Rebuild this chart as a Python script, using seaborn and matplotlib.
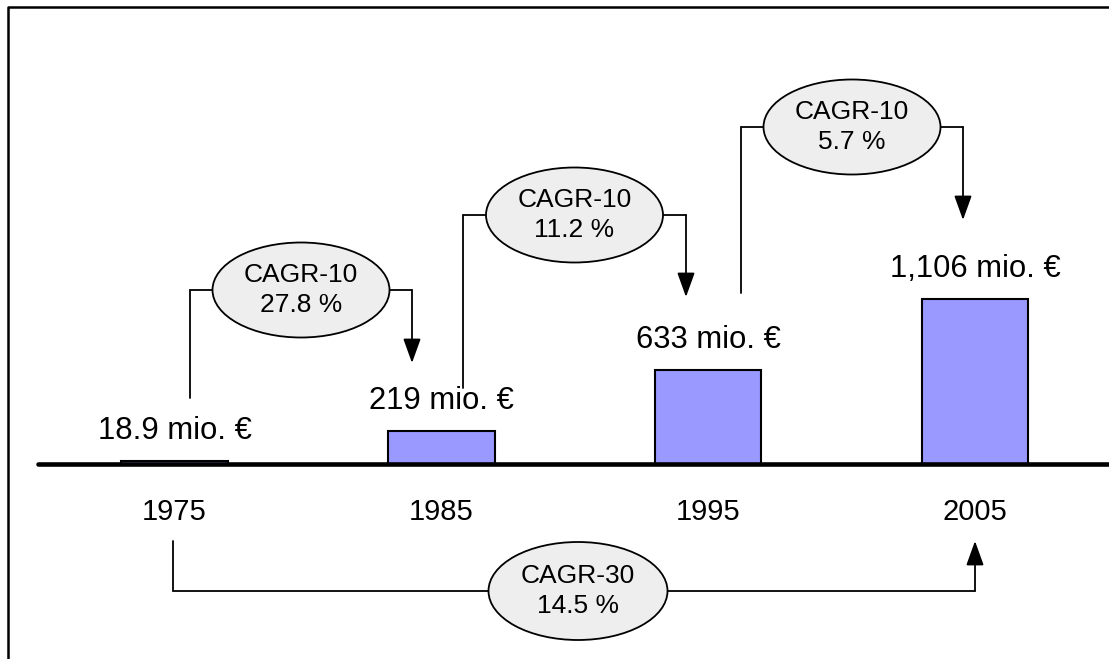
import matplotlib
matplotlib.use("Agg")
import matplotlib.pyplot as plt
from matplotlib.patches import Ellipse
import seaborn as sns
import pandas as pd

# data
years = ["1975", "1985", "1995", "2005"]
revenue = [18.9, 219, 633, 1106]
value_labels = ["18.9 mio. €", "219 mio. €", "633 mio. €", "1,106 mio. €"]
cagr10 = ["27.8 %", "11.2 %", "5.7 %"]
cagr30 = "14.5 %"

sns.set_style("white")
plt.rcParams["font.family"] = ["Liberation Sans", "DejaVu Sans"]
plt.rcParams["text.color"] = "black"

# pixel -> data helper (figure is 1109x659, axes fill it)
X0, DX = 174.5, 266.8   # px of first bar centre, px between bars
Y0, S = 464, 6.7        # px of baseline, mio per px


def px(x, y):
    return (x - X0) / DX, (Y0 - y) * S


fig = plt.figure(figsize=(11.09, 6.59), dpi=100)
ax = fig.add_axes([0, 0, 1, 1])

df = pd.DataFrame({"year": years, "revenue": revenue})
sns.barplot(data=df, x="year", y="revenue", color="#9999FF", saturation=1,
            edgecolor="black", linewidth=1.5, width=0.4, ax=ax)

ax.set_xlim(px(0, 0)[0], px(1109, 0)[0])
ax.set_ylim(px(0, 659)[1], px(0, 0)[1])
ax.axis("off")

# frame
fx, fy = px(8, 7)
ax.plot([fx, fx, px(1115, 0)[0]], [px(0, 670)[1], fy, fy],
        color="black", lw=1.8, clip_on=False)

# baseline
ax.plot([px(38, 0)[0], px(1115, 0)[0]], [0, 0], color="black", lw=3.3,
        clip_on=False, zorder=3)

# value labels and years
for i, (v, lab) in enumerate(zip(revenue, value_labels)):
    ax.text(i, v + 22 * S, lab, ha="center", va="baseline", fontsize=22.3)
    ax.text(i, px(0, 520)[1], years[i], ha="center", va="baseline", fontsize=21)


def bubble(cx, cy, w, h, txt):
    x, y = px(cx, cy)
    ax.add_patch(Ellipse((x, y), w / DX, h * S, facecolor="#EEEEEE",
                         edgecolor="black", lw=1.3, zorder=4))
    ax.text(x, y, txt, ha="center", va="center", fontsize=19,
            linespacing=1.35, zorder=5)


def connector(pts, tip):
    xs = [px(a, b)[0] for a, b in pts]
    ys = [px(a, b)[1] for a, b in pts]
    ax.plot(xs, ys, color="black", lw=1.3, zorder=2, solid_joinstyle="miter")
    ax.annotate("", xy=px(*tip), xytext=px(*pts[-1]),
                arrowprops=dict(arrowstyle="-|>,head_length=0.75,head_width=0.27",
                                color="black", lw=1.3, shrinkA=0, shrinkB=0,
                                mutation_scale=20))


# CAGR-10 bubbles: (left x, left bottom y, right x, arrow tip y, centre y)
geo = [(190, 398, 412, 363, 290),
       (463, 388, 686, 297, 215),
       (741, 293, 963, 220, 127)]
for (lx, ly, rx, ty, cy), c in zip(geo, cagr10):
    connector([(lx, ly), (lx, cy), (rx, cy)], (rx, ty))
    bubble((lx + rx) / 2, cy, 177, 95, "CAGR-10\n" + c)

# CAGR-30 bubble
connector([(173, 541), (173, 591), (975, 591)], (975, 541))
bubble(578, 591, 179, 98, "CAGR-30\n" + cagr30)

fig.savefig("out.png", dpi=100)
